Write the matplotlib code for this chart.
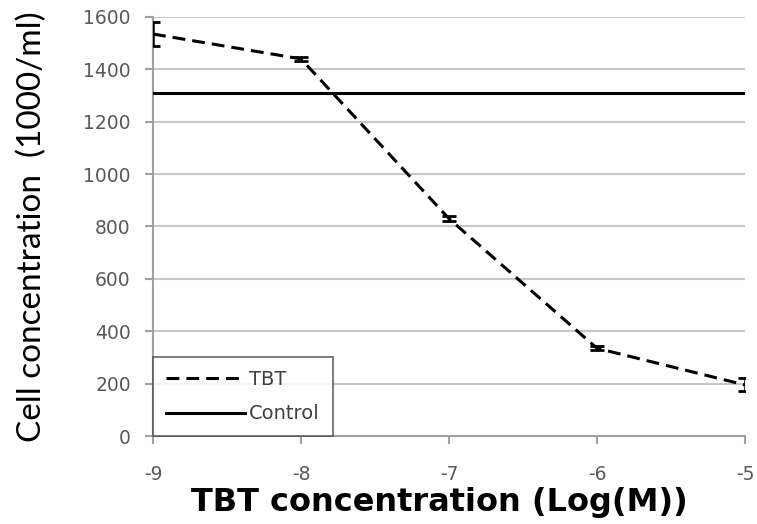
import numpy as np
import matplotlib
matplotlib.use('Agg')
import matplotlib.pyplot as plt
from matplotlib.lines import Line2D

plt.rcParams['font.family'] = ['DejaVu Sans']
plt.rcParams['axes.unicode_minus'] = False

# data
log_conc = [-9, -8, -7, -6, -5]
tbt = [1535, 1440, 830, 335, 195]
tbt_err = [45, 8, 10, 8, 25]
control = 1310

fig = plt.figure(figsize=(7.57, 5.24), dpi=100)
ax = fig.add_axes([153/757, 1 - 436/524, (745-153)/757, (436-17)/524])

dash = (0, (4.2, 2.3))
ax.errorbar(log_conc, tbt, yerr=tbt_err, color='black', linestyle=dash,
            linewidth=2.2, capsize=5, capthick=2, elinewidth=1.8, zorder=3)
ax.axhline(control, color='black', linewidth=2.2, zorder=3)

ax.set_xlim(-9, -5)
ax.set_ylim(0, 1600)
ax.set_xticks(log_conc)
ax.set_yticks(np.arange(0, 1601, 200))
ax.yaxis.grid(True, color='#c8c8c8', linewidth=1.5)
ax.set_axisbelow(True)
for s in ['top', 'right']:
    ax.spines[s].set_visible(False)
for s in ['left', 'bottom']:
    ax.spines[s].set_color('#a0a0a0')
    ax.spines[s].set_linewidth(1.5)
ax.tick_params(axis='both', colors='#a0a0a0', labelcolor='#595959', labelsize=13.5,
               length=6, width=1.5)
ax.tick_params(axis='x', pad=15)
ax.tick_params(axis='y', pad=10)

ax.set_xlabel('TBT concentration (Log(M))', fontsize=23, fontweight='bold')
ax.xaxis.set_label_coords(0.483, -0.122)
ax.set_ylabel('Cell concentration  (1000/ml)', fontsize=24, family='Lato', labelpad=26)

handles = [Line2D([], [], color='black', linestyle=dash, linewidth=2.2),
           Line2D([], [], color='black', linewidth=2.2)]
leg = ax.legend(handles, ['TBT', 'Control'], loc='lower left', bbox_to_anchor=(0, 0),
                borderaxespad=0, fontsize=14, frameon=True, fancybox=False,
                handlelength=4.1, labelspacing=0.8, borderpad=0.65, handletextpad=0.2)
leg.get_frame().set_edgecolor('#404040')
leg.get_frame().set_linewidth(1.2)
for t in leg.get_texts():
    t.set_color('#404040')
leg.set_zorder(5)

fig.savefig('out.png', dpi=100)
